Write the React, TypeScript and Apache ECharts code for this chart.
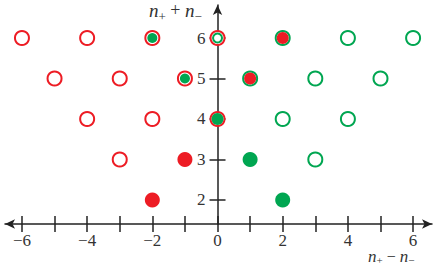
import React, { useEffect, useRef } from "react";
import * as echarts from "echarts";

const RED = "#ED1C24";
const GREEN = "#00A651";
const AXIS = "#222222";
const FONT = "Liberation Serif";

const xTicks = [-6, -5, -4, -3, -2, -1, 0, 1, 2, 3, 4, 5, 6];
const xLabels = [-6, -4, -2, 0, 2, 4, 6];
const yTicks = [2, 3, 4, 5, 6];

const redOpen: number[][] = [
  [-6, 6], [-4, 6], [-2, 6], [0, 6],
  [-5, 5], [-3, 5], [-1, 5],
  [-4, 4], [-2, 4], [0, 4],
  [-3, 3],
];
const greenOpen: number[][] = [
  [2, 6], [4, 6], [6, 6],
  [1, 5], [3, 5], [5, 5],
  [2, 4], [4, 4],
  [3, 3],
];
const greenInnerRing: number[][] = [[0, 6]];
const redFilled: number[][] = [[-1, 3], [-2, 2]];
const greenFilled: number[][] = [[1, 3], [2, 2]];
const greenDots: number[][] = [[-2, 6], [-1, 5]];
const greenCore: number[][] = [[0, 4]];
const redDots: number[][] = [[2, 6], [1, 5]];

const X_MIN = -6.52;
const X_MAX = 6.58;
const GRID_LEFT = 5;
const GRID_RIGHT = 4;
const CHART_W = 436;

const fmt = (v: number) => (v < 0 ? "\u2212" + Math.abs(v) : String(v));

const mkRich = (n: number, s: number, lh: number, pad: number) => ({
  n: { fontFamily: FONT, fontStyle: "italic", fontSize: n, lineHeight: lh, verticalAlign: "top", fill: "#333" },
  o: { fontFamily: FONT, fontSize: n - 1, lineHeight: lh, verticalAlign: "top", fill: "#333" },
  s: { fontFamily: FONT, fontSize: s, lineHeight: s, padding: [pad, 0, 0, 0], verticalAlign: "top", fill: "#333" },
});

export default function App() {
  const ref = useRef<HTMLDivElement>(null);
  useEffect(() => {
    if (!ref.current) return;
    const chart = echarts.init(ref.current, null, { renderer: "svg" });
    const tickStyle = { color: AXIS, width: 1.5 };
    const gridW = CHART_W - GRID_LEFT - GRID_RIGHT;
    const yOffset = -((0 - X_MIN) / (X_MAX - X_MIN)) * gridW;
    const xBase = { type: "value", min: X_MIN, max: X_MAX, position: "bottom", splitLine: { show: false } };
    const yBase = { type: "value", min: 1.407, max: 6.815, position: "left", offset: yOffset, splitLine: { show: false } };
    const ring = (data: number[][], color: string, size: number) => ({
      type: "scatter",
      data,
      symbol: "circle",
      symbolSize: size,
      itemStyle: { color: "#ffffff", borderColor: color, borderWidth: 2, opacity: 1 },
      emphasis: { disabled: true },
    });
    const dot = (data: number[][], color: string, size: number) => ({
      type: "scatter",
      data,
      symbol: "circle",
      symbolSize: size,
      itemStyle: { color, opacity: 1 },
      emphasis: { disabled: true },
    });
    chart.setOption({
      animation: false,
      grid: { left: GRID_LEFT, right: GRID_RIGHT, top: 5, bottom: 43, containLabel: false, outerBoundsMode: "none" },
      xAxis: [
        {
          ...xBase,
          axisLine: { show: true, onZero: false, lineStyle: { color: AXIS, width: 1.5 }, symbol: ["arrow", "arrow"], symbolSize: [7, 10] },
          axisTick: { show: true, inside: false, length: 8, lineStyle: tickStyle, customValues: xTicks },
          axisLabel: { show: true, customValues: xLabels, formatter: fmt, fontFamily: FONT, fontSize: 17, lineHeight: 16, color: "#333", margin: 8 },
        },
        {
          ...xBase,
          axisLine: { show: false, onZero: false },
          axisTick: { show: true, inside: true, length: 8, lineStyle: tickStyle, customValues: xTicks },
          axisLabel: { show: false },
        },
      ],
      yAxis: [
        {
          ...yBase,
          axisLine: { show: true, onZero: false, lineStyle: { color: AXIS, width: 1.5 }, symbol: ["none", "arrow"], symbolSize: [7, 10] },
          axisTick: { show: true, inside: false, length: 8, lineStyle: tickStyle, customValues: yTicks },
          axisLabel: { show: true, customValues: yTicks, formatter: fmt, fontFamily: FONT, fontSize: 17, color: "#333", margin: 12 },
        },
        {
          ...yBase,
          axisLine: { show: false, onZero: false },
          axisTick: { show: true, inside: true, length: 8, lineStyle: tickStyle, customValues: yTicks },
          axisLabel: { show: false },
        },
      ],
      series: [
        ring(greenOpen, GREEN, 14),
        ring(redOpen, RED, 14),
        ring(greenInnerRing, GREEN, 9),
        dot(redFilled, RED, 15),
        dot(greenFilled, GREEN, 15),
        dot(greenDots, GREEN, 10),
        dot(greenCore, GREEN, 12),
        dot(redDots, RED, 12),
      ],
      graphic: [
        {
          type: "text",
          left: 149,
          top: 1,
          style: { text: "{n|n}{s|+}{o| + }{n|n}{s|\u2212}", rich: mkRich(19, 13, 19, 9) },
        },
        {
          type: "text",
          left: 368,
          top: 248,
          style: { text: "{n|n}{s|+}{o| \u2212 }{n|n}{s|\u2212}", rich: mkRich(17, 11, 14, 6) },
        },
      ],
    });
    return () => chart.dispose();
  }, []);
  return <div ref={ref} style={{ position: "fixed", left: 0, top: 0, width: 436, height: 267, background: "#fff" }} />;
}
